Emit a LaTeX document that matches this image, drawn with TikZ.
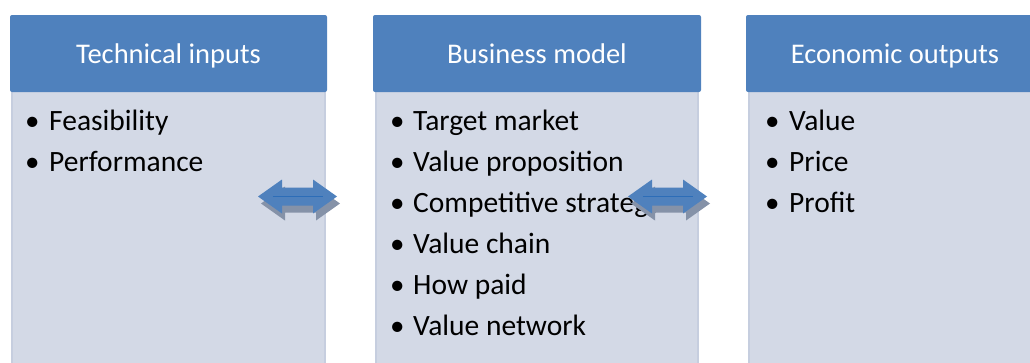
\documentclass[tikz,border=0pt]{standalone}
\usepackage{fontspec}
\setmainfont{Carlito}
\definecolor{hdr}{HTML}{4F81BD}
\definecolor{bodyfill}{HTML}{D3D9E6}
\definecolor{bodyline}{HTML}{C6CEDF}
\definecolor{shadowc}{HTML}{8592A8}
\definecolor{linec}{HTML}{2C6DB8}
\tikzset{
  header/.style={fill=hdr, draw=none, rounded corners=2pt},
  bodybox/.style={fill=bodyfill, draw=bodyline, line width=1.2pt},
  htext/.style={text=white, font=\fontsize{28.5}{32}\selectfont, inner sep=0pt, anchor=base},
  item/.style={font=\fontsize{29.5}{32}\selectfont, inner sep=0pt, anchor=base west},
  bul/.style={font=\fontsize{29}{32}\selectfont, inner sep=0pt, anchor=base west},
  dblarrow/.pic={
    \path[fill=shadowc] (3,7) ++(-39.5,0) -- ++(24,-17) -- ++(0,8) -- ++(31,0) -- ++(0,-8)
        -- ++(24,17) -- ++(-24,17) -- ++(0,-8) -- ++(-31,0) -- ++(0,8) -- cycle;
    \path[fill=hdr] (-39.5,0) -- ++(24,-17) -- ++(0,8) -- ++(31,0) -- ++(0,-8)
        -- ++(24,17) -- ++(-24,17) -- ++(0,-8) -- ++(-31,0) -- ++(0,8) -- cycle;
    \draw[linec, line width=1.3pt] (-25,0) -- (25,0);
  },
}
\begin{document}
\begin{tikzpicture}[x=1pt,y=-1pt]
\useasboundingbox (0,0) rectangle (1030,362);
\clip (0,0) rectangle (1030,362);
% boxes
\path[bodybox] (12,86) rectangle (325,380);
\path[header] (10,15) rectangle (327,92);
\path[bodybox] (376,86) rectangle (698,380);
\path[header] (373,15) rectangle (701,92);
\path[bodybox] (749,86) rectangle (1060,380);
\path[header] (746,15) rectangle (1060,92);
% headers
\node[htext] (h1) at (168.5,63) {Technical inputs};
\node[htext] (h2) at (537,63) {Business model};
\node[htext] (h3) at (895,63) {Economic outputs};
% items
\foreach \t [count=\i] in {Feasibility, Performance}{
  \node[bul] (b1\i) at (25,130+41*\i-41) {•};
  \node[item] (t1\i) at (49,130+41*\i-41) {\t};
}
\foreach \t [count=\i] in {Target market, Value proposition, Competitive strategy, Value chain, How paid, Value network}{
  \node[bul] (b2\i) at (390,130+41*\i-41) {•};
  \node[item] (t2\i) at (413,130+41*\i-41) {\t};
}
\foreach \t [count=\i] in {Value, Price, Profit}{
  \node[bul] (b3\i) at (765,130+41*\i-41) {•};
  \node[item] (t3\i) at (789,130+41*\i-41) {\t};
}
% arrows
\pic (a1) at (297.5,196.5) {dblarrow};
\pic (a2) at (667.5,196.5) {dblarrow};
\end{tikzpicture}
\end{document}
